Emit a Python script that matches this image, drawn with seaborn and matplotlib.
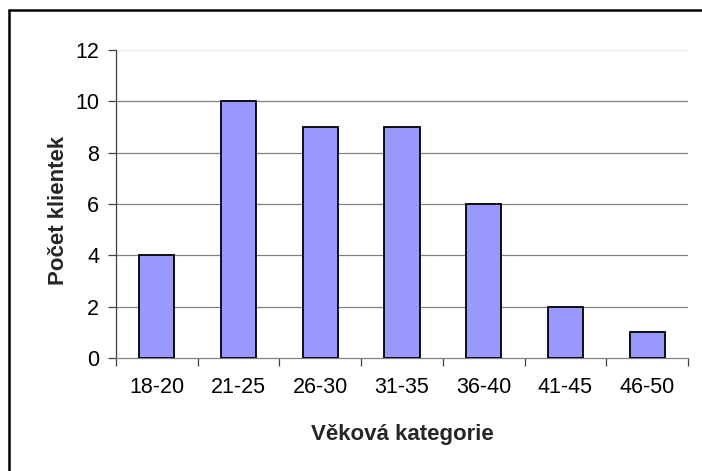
import pandas as pd
import seaborn as sns
import matplotlib.pyplot as plt
from matplotlib.lines import Line2D

categories = ["18-20", "21-25", "26-30", "31-35", "36-40", "41-45", "46-50"]
counts = [4, 10, 9, 9, 6, 2, 1]

df = pd.DataFrame({"kategorie": categories, "pocet": counts})

sns.set_theme(style="white")
plt.rcParams['font.family'] = ['Liberation Sans', 'DejaVu Sans']

fig = plt.figure(figsize=(7.02, 4.71), dpi=100)
ax = fig.add_axes([116 / 702, 113 / 471, 572 / 702, 308 / 471])

sns.barplot(x="kategorie", y="pocet", data=df, color="#9999FF",
            width=0.43, edgecolor="black", linewidth=1.3, saturation=1,
            zorder=3, ax=ax)

ax.set_ylim(0, 12)
ax.set_yticks(range(0, 13, 2))
ax.set_xlim(-0.5, len(categories) - 0.5)
for y in range(2, 11, 2):
    ax.axhline(y, color="#808080", linewidth=0.9, zorder=1)
ax.axhline(12, color="#eeeeee", linewidth=0.9, zorder=1)

# category ticks sit between the bars
ax.set_xticks([i - 0.5 for i in range(len(categories) + 1)], minor=True)
ax.tick_params(axis="x", which="major", length=0, pad=14, labelsize=15.5, colors="black")
ax.tick_params(axis="x", which="minor", length=6, width=0.9, color="#404040", direction="out", bottom=True)
ax.tick_params(axis="y", length=6, width=0.9, color="#404040", direction="out", left=True,
               labelsize=15.5, pad=6, labelcolor="black")

for side in ["top", "right"]:
    ax.spines[side].set_visible(False)
ax.spines["left"].set_color("#404040")
ax.spines["bottom"].set_color("#808080")
ax.spines["left"].set_linewidth(0.9)
ax.spines["bottom"].set_linewidth(0.9)

ax.set_xlabel("Věková kategorie", fontsize=16, fontweight="bold")
ax.set_ylabel("Počet klientek", fontsize=16, fontweight="bold")
ax.xaxis.set_label_coords(0.5, -(424 - 358) / 308)
ax.yaxis.set_label_coords(-(116 - 69) / 572, (358 - 210) / 308)

# outer chart border (cropped on right and bottom)
fig.add_artist(Line2D([8.5 / 702, 8.5 / 702], [0, 1 - 10 / 471], color="black", linewidth=1.8))
fig.add_artist(Line2D([8.5 / 702, 1], [1 - 10 / 471, 1 - 10 / 471], color="black", linewidth=1.8))

fig.savefig("out.png", dpi=100)
